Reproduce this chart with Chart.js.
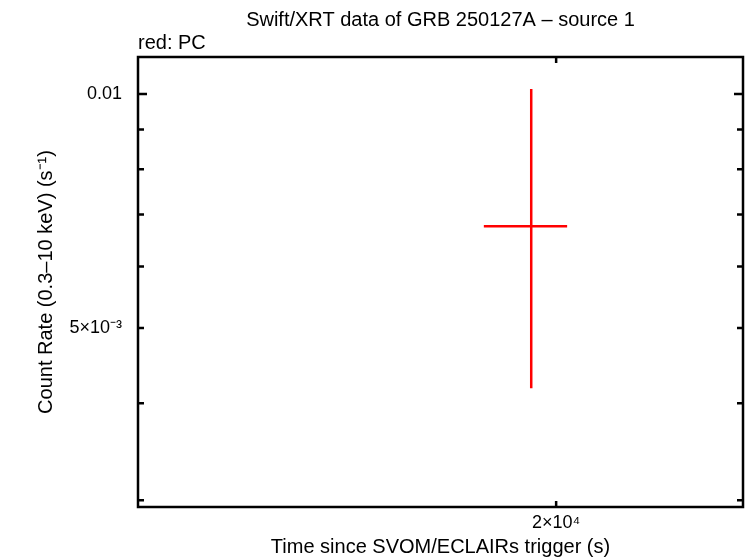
<!DOCTYPE html>
<html>
<head>
<meta charset="utf-8">
<script src="https://cdn.jsdelivr.net/npm/chart.js@4"></script>
<style>
  html, body { margin: 0; padding: 0; background: #fff; }
  #wrap { width: 746px; height: 558px; }
</style>
</head>
<body>
<div id="wrap"><canvas id="lcChart"></canvas></div>
<script>
// single PC-mode bin of GRB 250127A
const timeMid = [19250];
const timeLow = [17900];
const timeHigh = [20340];
const rateMid = [0.00676];
const rateLow = [0.00418];
const rateHigh = [0.01015];

const xRange = [10530, 26640];
const yRange = [0.002941, 0.01116];

const xTicks = [20000];
const xLabels = { 20000: '2×10⁴' };
const yTicks = [0.003, 0.004, 0.005, 0.006, 0.007, 0.008, 0.009, 0.01];
const yLabels = { 0.005: '5×10⁻³', 0.01: '0.01' };
const yMajor = [0.01];

const titleText = 'Swift/XRT data of GRB 250127A – source 1';
const modeText = 'red: PC';

const FONT = 'Liberation Sans, Arial, sans-serif';

const framePlugin = {
    id: 'frame',
    afterDraw(chart) {
        const ctx = chart.ctx;
        const a = chart.chartArea;
        const xs = chart.scales.x;
        const ys = chart.scales.y;
        ctx.save();
        ctx.strokeStyle = '#000';
        ctx.lineWidth = 2.5;
        ctx.strokeRect(a.left, a.top, a.right - a.left, a.bottom - a.top);

        xTicks.forEach(v => {
            const px = xs.getPixelForValue(v);
            ctx.beginPath();
            ctx.moveTo(px, a.bottom); ctx.lineTo(px, a.bottom - 6);
            ctx.moveTo(px, a.top); ctx.lineTo(px, a.top + 6);
            ctx.stroke();
        });
        yTicks.forEach(v => {
            const py = ys.getPixelForValue(v);
            const len = yMajor.includes(v) ? 9 : 6;
            ctx.beginPath();
            ctx.moveTo(a.left, py); ctx.lineTo(a.left + len, py);
            ctx.moveTo(a.right, py); ctx.lineTo(a.right - len, py);
            ctx.stroke();
        });

        ctx.fillStyle = '#000';
        ctx.font = '20px ' + FONT;
        ctx.textAlign = 'center';
        ctx.textBaseline = 'middle';
        ctx.fillText(titleText, (a.left + a.right) / 2, 20);
        ctx.textAlign = 'left';
        ctx.fillText(modeText, a.left, 43);
        ctx.restore();
    }
};

const ctx1 = document.getElementById('lcChart').getContext('2d');

new Chart(ctx1, {
    type: 'scatter',
    data: {
        datasets: [
            {
                data: timeMid.map((t, i) => [{ x: t, y: rateLow[i] }, { x: t, y: rateHigh[i] }]).flat(),
                showLine: true,
                borderColor: '#ff0000',
                borderWidth: 2.5,
                pointRadius: 0
            },
            {
                data: timeMid.map((t, i) => [{ x: timeLow[i], y: rateMid[i] }, { x: timeHigh[i], y: rateMid[i] }]).flat(),
                showLine: true,
                borderColor: '#ff0000',
                borderWidth: 2.5,
                pointRadius: 0
            }
        ]
    },
    options: {
        responsive: true,
        maintainAspectRatio: false,
        animation: false,
        layout: { padding: { top: 57, right: 3, left: 0, bottom: 0 } },
        plugins: {
            legend: { display: false },
            tooltip: { enabled: false }
        },
        scales: {
            x: {
                type: 'logarithmic',
                min: xRange[0],
                max: xRange[1],
                afterBuildTicks: scale => { scale.ticks = xTicks.map(v => ({ value: v })); },
                afterFit: scale => { scale.height = 51; },
                grid: { display: false },
                border: { display: false },
                ticks: {
                    autoSkip: false,
                    maxRotation: 0,
                    padding: -3,
                    color: '#000',
                    font: { family: FONT, size: 18 },
                    callback: v => xLabels[v] || ''
                },
                title: {
                    display: true,
                    text: 'Time since SVOM/ECLAIRs trigger (s)',
                    color: '#000',
                    font: { family: FONT, size: 20 },
                    padding: { top: 0, bottom: -1 }
                }
            },
            y: {
                type: 'logarithmic',
                min: yRange[0],
                max: yRange[1],
                afterBuildTicks: scale => { scale.ticks = yTicks.map(v => ({ value: v })); },
                afterFit: scale => { scale.width = 138; },
                grid: { display: false },
                border: { display: false },
                ticks: {
                    autoSkip: false,
                    padding: 8,
                    color: '#000',
                    font: { family: FONT, size: 18 },
                    callback: v => yLabels[v] || ''
                },
                title: {
                    display: true,
                    text: 'Count Rate (0.3–10 keV) (s⁻¹)',
                    color: '#000',
                    font: { family: FONT, size: 20 },
                    padding: { top: 34, bottom: 0 }
                }
            }
        }
    },
    plugins: [framePlugin]
});
</script>
</body>
</html>
